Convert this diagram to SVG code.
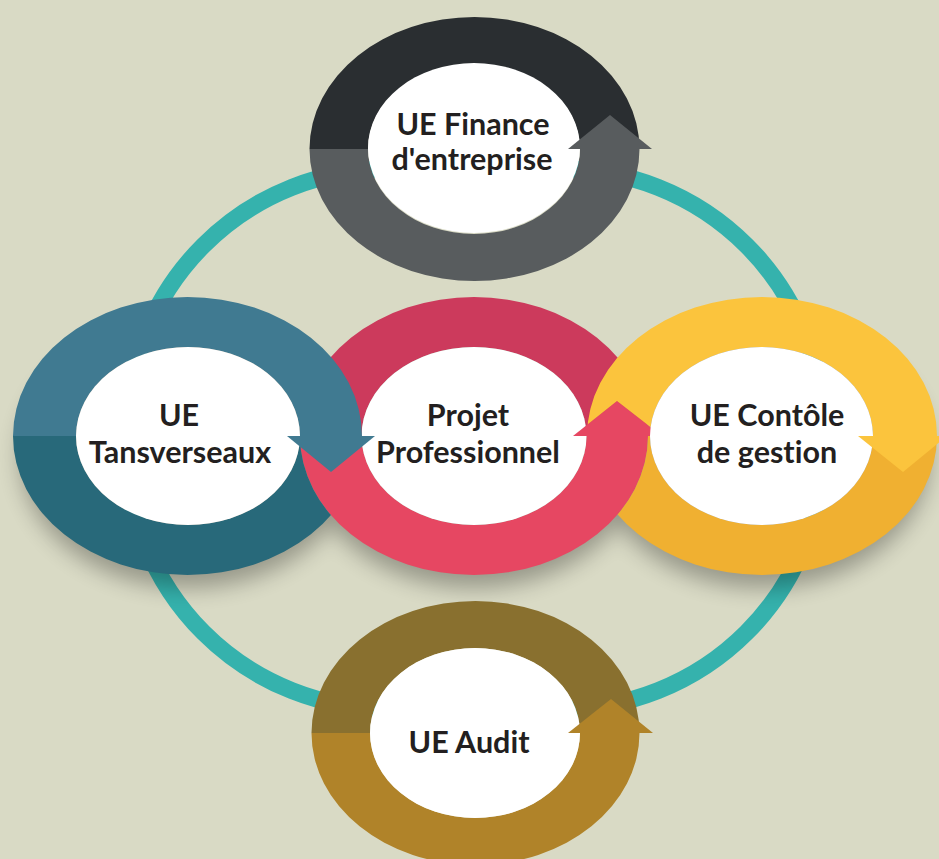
<svg xmlns="http://www.w3.org/2000/svg" width="939" height="859" viewBox="0 0 939 859">
<style>
.lbl{font-family:Lato,"Open Sans","Liberation Sans",sans-serif;font-weight:700;font-size:30.5px;fill:#231f20;text-anchor:middle;font-variant-ligatures:none}
.ring{fill:none;stroke:#35b2ad;stroke-width:17}
.inner{fill:#ffffff}
</style>
<defs>
<filter id="blur" x="-30%" y="-30%" width="160%" height="160%"><feGaussianBlur stdDeviation="11"/></filter>
<clipPath id="notPink"><path clip-rule="evenodd" d="M0,0H939V859H0Z M300,436 A174,139 0 1 0 648,436 A174,139 0 1 0 300,436 Z"/></clipPath>
<clipPath id="notPinkArrow"><path clip-rule="evenodd" d="M0,0H939V859H0Z M573,436 L662,436 L617,401 Z"/></clipPath>
</defs>
<rect width="939" height="859" fill="#d9dac5"/>
<g id="connectors">
<rect class="ring" x="127" y="169" width="696" height="540" rx="261" ry="261"/>
</g>
<g id="shadows" filter="url(#blur)" fill="#000" opacity="0.3">
<ellipse cx="188" cy="456" rx="168" ry="132"/>
<ellipse cx="474" cy="456" rx="168" ry="132"/>
<ellipse cx="762" cy="456" rx="168" ry="132"/>
</g>
<g id="node-finance">
<path fill="#2a2e31" d="M309.5,149 A165,132 0 0 1 639.5,149 L580,149 A106,85 0 0 0 368,149 Z"/>
<path fill="#585c5e" d="M309.5,149 A165,132 0 0 0 639.5,149 L580,149 A106,85 0 0 1 368,149 Z"/>
<ellipse class="inner" cx="474" cy="148" rx="106" ry="85"/>
<polygon fill="#585c5e" points="568,149 652,149 610,115"/>
<text class="lbl" x="473" y="135">UE Finance</text>
<text class="lbl" x="472" y="170">d'entreprise</text>
</g>
<g id="node-projet">
<path fill="#cc3a5c" d="M300,436 A174,139 0 0 1 648,436 L586.5,436 A112.5,89 0 0 0 361.5,436 Z"/>
<path fill="#e64762" d="M300,436 A174,139 0 0 0 648,436 L586.5,436 A112.5,89 0 0 1 361.5,436 Z"/>
<ellipse class="inner" cx="474" cy="436" rx="112.5" ry="89"/>
<polygon fill="#e64762" points="573,436 662,436 617,401"/>
<text class="lbl" x="468" y="426">Projet</text>
<text class="lbl" x="468" y="463">Professionnel</text>
</g>
<g id="node-transverseaux">
<path fill="#407a91" d="M13,436 A174.5,139 0 0 1 362,436 L300,436 A112,89 0 0 0 76,436 Z"/>
<path fill="#28697a" clip-path="url(#notPink)" d="M13,436 A174.5,139 0 0 0 362,436 L300,436 A112,89 0 0 1 76,436 Z"/>
<ellipse class="inner" cx="188" cy="436" rx="112" ry="89"/>
<polygon fill="#407a91" points="287,436 375,436 331,472"/>
<text class="lbl" x="179" y="426">UE</text>
<text class="lbl" x="180" y="463">Tansverseaux</text>
</g>
<g id="node-controle">
<path fill="#fbc43d" clip-path="url(#notPinkArrow)" d="M587,436 A175,139 0 0 1 937,436 L873,436 A111.5,89 0 0 0 650,436 Z"/>
<path fill="#f0b031" clip-path="url(#notPink)" d="M587,436 A175,139 0 0 0 937,436 L873,436 A111.5,89 0 0 1 650,436 Z"/>
<ellipse class="inner" cx="761.5" cy="436" rx="111.5" ry="89"/>
<polygon fill="#fbc43d" points="858,436 947,436 903,472"/>
<text class="lbl" x="767" y="426">UE Contôle</text>
<text class="lbl" x="767" y="463">de gestion</text>
</g>
<g id="node-audit">
<path fill="#89702f" d="M311.5,733 A164,132 0 0 1 639.5,733 L580,733 A105,85 0 0 0 370,733 Z"/>
<path fill="#b08329" d="M311.5,733 A164,132 0 0 0 639.5,733 L580,733 A105,85 0 0 1 370,733 Z"/>
<ellipse class="inner" cx="475" cy="733" rx="105" ry="85"/>
<polygon fill="#b08329" points="568,733 653,733 611,699"/>
<text class="lbl" x="469" y="753">UE Audit</text>
</g>
</svg>
